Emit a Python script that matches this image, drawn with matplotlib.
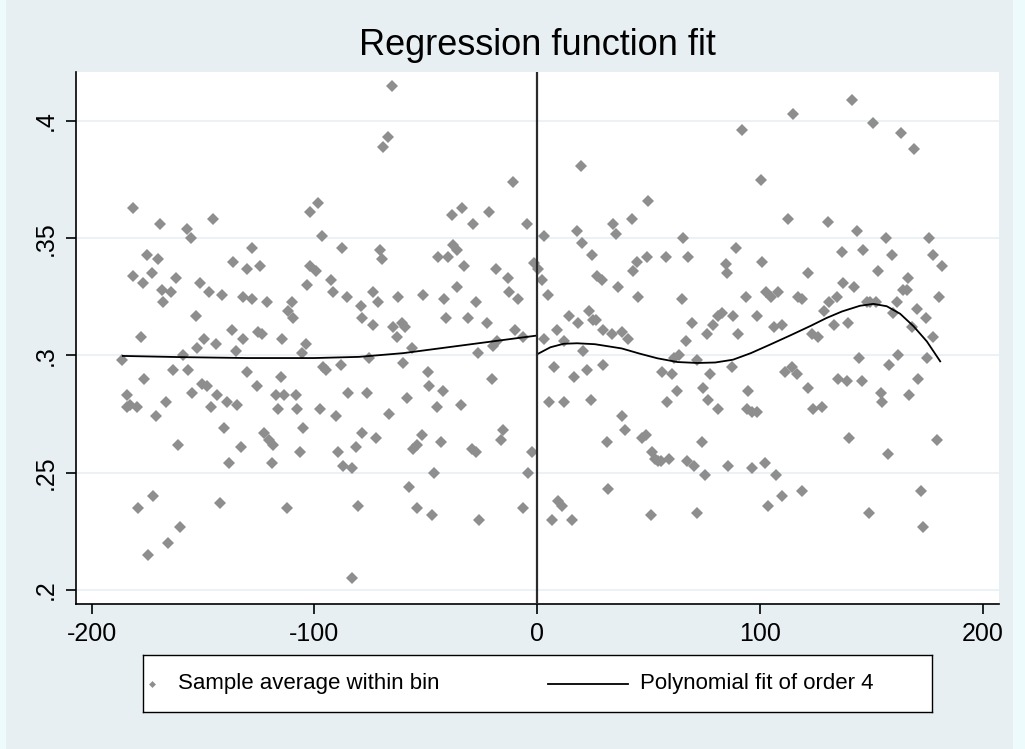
import numpy as np
import matplotlib
matplotlib.use("Agg")
import matplotlib.pyplot as plt
from matplotlib.patches import Rectangle
from matplotlib.lines import Line2D

# bin averages left of the cutoff (running variable, outcome)
left_x = [-186.2, -184.2, -184.2,
          -181.2, -169.2, -157.3, -155.3, -145.6, -175.2, -170.4, -181.5, -177.0, -173.0,
          -162.2, -151.3, -136.6, -130.3, -168.5, -164.4, -168.0, -147.5, -141.5, -131.8,
          -153.1, -177.8, -137.1, -132.1, -149.5, -152.8, -144.1, -135.1, -159.1, -163.5,
          -156.5, -130.3, -176.4, -150.5, -148.3, -182.7, -179.7, -166.5, -154.9, -143.5,
          -146.3, -139.3, -134.5, -171.3, -140.5, -161.4, -133.0, -138.5, -179.0, -172.5,
          -142.3, -160.2, -165.8, -174.5, -128.0,
          -124.4, -128.1, -121.1, -125.1, -123.3, -114.3, -110.1, -111.6, -109.7, -103.4,
          -101.9, -99.4, -98.5, -101.9, -96.7, -87.7, -92.5, -91.7, -85.5, -79.0, -78.4,
          -103.7, -105.7, -125.9, -114.9, -95.9, -94.7, -88.1, -84.7, -117.2, -113.4,
          -108.2, -116.4, -107.7, -97.4, -90.4, -104.9, -122.4, -120.3, -118.4, -106.4,
          -89.5, -81.4, -78.7, -119.1, -87.0, -83.2, -112.4, -80.5, -82.9,
          -65.3, -67.1, -69.0, -38.3, -33.6, -28.6, -70.5, -69.5, -44.6, -39.8, -37.9,
          -35.8, -32.8, -73.5, -71.3, -62.3, -51.4, -41.8, -36.1, -27.4, -73.8, -64.5,
          -62.7, -60.8, -59.3, -40.9, -30.9, -56.3, -26.4, -75.3, -60.4, -48.8, -76.5,
          -58.3, -48.4, -42.4, -45.1, -34.3, -66.3, -72.5, -51.8, -54.1, -55.9, -43.3,
          -29.4, -27.4, -46.3, -57.5, -53.8, -47.3, -25.9,
          -11.0, -21.5, -4.3, -18.4, -13.1, -1.2, -12.8, -8.6, -22.3, -10.1, -6.1, -19.6,
          -18.1, -20.3, -15.1, -16.1, -2.1, -3.9, -6.4]
left_y = [.298, .283, .278,
          .363, .356, .354, .350, .358, .343, .341, .334, .331, .335,
          .333, .331, .340, .337, .328, .327, .323, .327, .326, .325,
          .317, .308, .311, .307, .307, .303, .305, .302, .300, .294,
          .294, .293, .290, .288, .287, .279, .278, .280, .284, .283,
          .278, .280, .279, .274, .269, .262, .261, .254, .235, .240,
          .237, .227, .220, .215, .346,
          .338, .324, .323, .310, .309, .307, .323, .319, .316, .330,
          .338, .336, .365, .361, .351, .346, .332, .327, .325, .321, .316,
          .305, .301, .287, .291, .295, .294, .296, .284, .283, .283,
          .283, .277, .277, .277, .274, .269, .267, .264, .262, .259,
          .259, .261, .267, .254, .253, .252, .235, .236, .205,
          .415, .393, .389, .360, .363, .356, .345, .341, .342, .342, .347,
          .345, .338, .327, .323, .325, .326, .324, .329, .323, .313, .312,
          .308, .314, .312, .316, .316, .303, .301, .299, .297, .293, .284,
          .282, .287, .285, .278, .279, .275, .265, .266, .262, .260, .263,
          .260, .259, .250, .244, .235, .232, .230,
          .374, .361, .356, .337, .333, .3395, .327, .324, .314, .311, .308, .304,
          .306, .290, .268, .264, .259, .250, .235]

# bin averages right of the cutoff
right_x = [0.6, 2.1, 3.3, 17.8, 20.4, 24.6, 19.8, 4.8, 14.4, 18.3, 23.1, 25.3, 8.9,
           12.3, 2.9, 20.8, 7.4, 16.6, 22.3, 5.4, 11.9, 24.3, 9.6, 11.4, 6.6, 15.9,
           50.0, 42.5, 34.0, 35.5, 65.4, 44.8, 43.0, 49.5, 57.9, 67.9, 27.1, 29.0, 36.5,
           45.5, 65.0, 26.5, 29.8, 33.5, 38.0, 41.0, 69.4, 66.9, 76.2, 29.5, 56.0, 60.5,
           61.5, 63.9, 71.7, 77.7, 74.4, 62.7, 76.9, 58.2, 38.3, 39.5, 47.0, 49.0, 31.3,
           73.9, 51.5, 53.0, 54.5, 55.7, 59.3, 67.2, 70.5, 75.4, 32.0, 51.2, 72.0,
           115.1, 92.2, 100.5, 112.5, 89.3, 84.7, 85.4, 101.1, 121.5, 93.7, 102.8, 105.0,
           108.0, 117.3, 119.1, 98.6, 83.2, 81.1, 79.1, 88.1, 90.4, 106.5, 109.8, 123.3,
           126.3, 129.0, 87.4, 111.3, 114.6, 116.6, 81.4, 94.6, 94.1, 96.4, 98.6, 121.5,
           124.0, 128.1, 85.6, 96.4, 102.3, 107.1, 103.5, 110.1, 119.1,
           141.5, 150.9, 163.4, 169.3, 130.7, 143.8, 156.5, 175.9, 136.7, 146.2, 159.5,
           177.9, 153.2, 166.4, 137.5, 142.4, 164.1, 165.9, 131.0, 134.5, 148.0, 149.4,
           152.1, 161.4, 170.4, 174.6, 180.3, 139.7, 133.3, 168.2, 159.6, 177.6, 144.7,
           158.1, 162.2, 175.2, 135.2, 139.0, 145.7, 171.1, 154.4, 155.0, 167.1, 140.2,
           157.4, 179.4, 172.6, 149.0, 173.4, 181.7]
right_y = [.337, .332, .351, .353, .348, .343, .381, .326, .317, .314, .319, .315, .311,
           .306, .307, .302, .295, .291, .294, .280, .280, .281, .238, .236, .230, .230,
           .366, .358, .356, .352, .350, .340, .336, .342, .342, .342, .334, .332, .329,
           .325, .324, .315, .311, .309, .310, .307, .314, .306, .309, .296, .293, .292,
           .299, .300, .298, .292, .286, .285, .281, .280, .274, .268, .265, .266, .263,
           .263, .259, .256, .255, .255, .256, .255, .253, .249, .243, .232, .233,
           .403, .396, .375, .358, .346, .339, .335, .340, .335, .325, .327, .325,
           .327, .325, .324, .317, .318, .317, .313, .317, .309, .312, .313, .309,
           .308, .319, .295, .293, .295, .292, .277, .285, .277, .276, .276, .286,
           .277, .278, .253, .252, .254, .249, .236, .240, .242,
           .409, .399, .395, .388, .357, .353, .350, .350, .344, .345, .343,
           .343, .336, .333, .331, .329, .328, .328, .323, .325, .323, .323,
           .323, .323, .320, .316, .325, .314, .313, .312, .318, .308, .299,
           .296, .300, .299, .290, .289, .289, .290, .284, .280, .283, .265,
           .258, .264, .242, .233, .227, .338]

# order-4 polynomial fits
fitL_x = [-186, -160, -130, -100, -80, -60, -40, -20, 0]
fitL_y = [.2998, .2993, .2989, .2989, .2994, .3010, .3035, .3060, .3085]
fitR_x = [0, 6, 12, 18, 26, 38, 46, 54, 63, 72, 80, 88, 96, 105, 114, 123, 130, 137, 145, 151, 157, 163, 169, 175, 181]
fitR_y = [.3005, .3035, .3050, .3052, .3048, .3030, .3008, .2988, .2972, .2968, .2970, .2982, .3010, .3048,
          .3087, .3127, .3160, .3188, .3212, .3220, .3210, .3178, .3125, .3060, .2975]

xticks = [-200, -100, 0, 100, 200]
yticks = [.2, .25, .3, .35, .4]
ytick_labels = [".2", ".25", ".3", ".35", ".4"]

sans = ["Liberation Sans", "DejaVu Sans"]

W, H = 1025, 749
fig = plt.figure(figsize=(W / 100, H / 100), dpi=100, facecolor="#e8eff2")
# light strips at the image edges
fig.add_artist(Rectangle((0, 0), 6 / W, 1, transform=fig.transFigure, color="#eefbfc", lw=0))
fig.add_artist(Rectangle((1013 / W, 0), 12 / W, 1, transform=fig.transFigure, color="#eefbfc", lw=0))

ax = fig.add_axes([76 / W, 1 - 604 / H, (999 - 76) / W, (604 - 72) / H])
ax.set_facecolor("white")
ax.set_xlim(-207, 207.4)
ax.set_ylim(0.194, 0.4209)

for yv in yticks:
    ax.axhline(yv, color="#e7eff2", lw=1.2, zorder=0)

gray = "#8e8e8e"
ax.plot(left_x, left_y, "D", color=gray, ms=6, mew=0, zorder=2)
ax.plot(right_x, right_y, "D", color=gray, ms=6, mew=0, zorder=2)
ax.plot(fitL_x, fitL_y, color="black", lw=1.3, zorder=3)
ax.plot(fitR_x, fitR_y, color="black", lw=1.3, zorder=3)
ax.axvline(0, color="#2b2b2b", lw=1.6, zorder=4)

for s in ["top", "right"]:
    ax.spines[s].set_visible(False)
for s in ["left", "bottom"]:
    ax.spines[s].set_color("black")
    ax.spines[s].set_linewidth(1.2)

ax.set_xticks(xticks)
ax.set_xticklabels([str(v) for v in xticks], fontfamily=sans, fontsize=18)
ax.set_yticks(yticks)
ax.set_yticklabels(ytick_labels, fontfamily=sans, fontsize=18, rotation=90, va="center")
ax.tick_params(axis="both", direction="out", length=7, width=1.2, colors="black", pad=6)

ax.set_title("Regression function fit", fontfamily=sans, fontsize=26, pad=12)

# legend box below the plot
lax = fig.add_axes([143 / W, 1 - 712 / H, (932 - 143) / W, 57 / H])
lax.set_xlim(0, 789)
lax.set_ylim(0, 57)
lax.set_xticks([])
lax.set_yticks([])
for s in lax.spines.values():
    s.set_color("black")
    s.set_linewidth(1.0)
lax.plot([9], [28.5], "D", color=gray, ms=3.5, mew=0)
lax.text(35, 28, "Sample average within bin", fontfamily=sans, fontsize=16, va="center", ha="left")
lax.add_line(Line2D([405, 485], [28.5, 28.5], color="black", lw=1.3))
lax.text(497, 28, "Polynomial fit of order 4", fontfamily=sans, fontsize=16, va="center", ha="left")

fig.savefig("out.png", dpi=100, facecolor=fig.get_facecolor())
